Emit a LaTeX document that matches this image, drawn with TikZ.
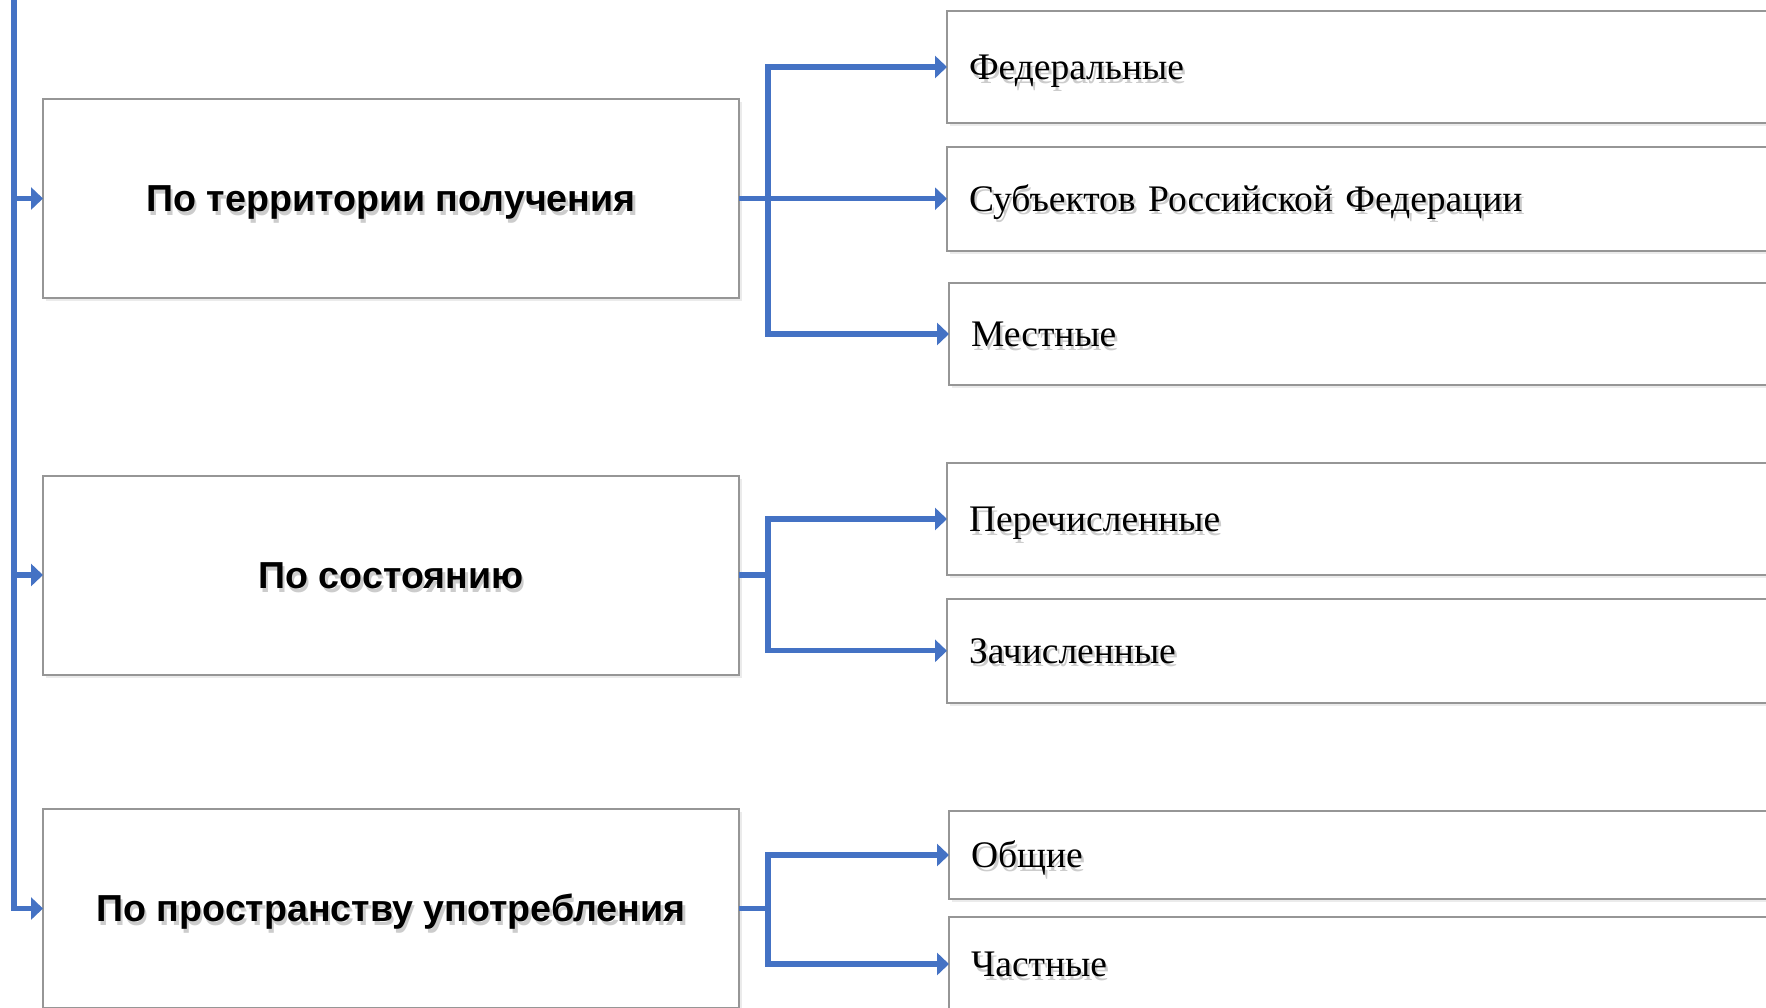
\documentclass[tikz,border=0pt]{standalone}
\usepackage{fontspec}
\setmainfont{Liberation Serif}
\newfontfamily\headfont{Liberation Sans}
\usetikzlibrary{arrows.meta,shadows}
\definecolor{linkblue}{RGB}{68,114,196}
\definecolor{boxgray}{RGB}{150,150,150}
\newcommand{\shtext}[1]{\leavevmode\rlap{\kern1.2pt\raisebox{-1.8pt}{\textcolor{black!20}{#1}}}#1}

\begin{document}
\begin{tikzpicture}[x=0.5pt,y=0.5pt,yscale=-1,xscale=1,
	boxshadow/.style={drop shadow={shadow xshift=1.5pt,shadow yshift=-1.5pt,fill=black!8,opacity=1}},
	headbox/.style={draw=boxgray,line width=1pt,fill=white,boxshadow,minimum width=348pt,minimum height=99.5pt,inner sep=0pt,outer sep=0pt,text height=15pt,text depth=1.6pt,font=\headfont\bfseries\fontsize{18.8}{22}\selectfont},
	itembox/.style={draw=boxgray,line width=1pt,fill=white,boxshadow,anchor=west,text width=400pt,align=left,inner xsep=11pt,inner ysep=0pt,outer sep=0pt,text height=14pt,text depth=1.6pt,font=\fontsize{18.75}{22}\selectfont},
	link/.style={draw=linkblue,line width=2.6pt},
	linkarrow/.style={link,-{Triangle[length=6pt,width=11pt]}}]
	\useasboundingbox (0,0) rectangle (1766,1007);
	
	%Shape: Rectangle [left column]
	\node [headbox] (L1) at (391,198.5) {\shtext{По территории получения}};
	\node [headbox] (L2) at (391,575) {\shtext{По состоянию}};
	\node [headbox] (L3) at (391,908.5) {\shtext{По пространству употребления}};
	
	%Shape: Rectangle [right column]
	\node [itembox,minimum height=56pt] (R1) at (947,67) {\shtext{Федеральные}};
	\node [itembox,minimum height=52pt] (R2) at (947,198.7) {\shtext{Субъектов Российской Федерации}};
	\node [itembox,minimum height=51pt] (R3) at (949,334) {\shtext{Местные}};
	\node [itembox,minimum height=56pt] (R4) at (947,519) {\shtext{Перечисленные}};
	\node [itembox,minimum height=52pt] (R5) at (947,650.8) {\shtext{Зачисленные}};
	\node [itembox,minimum height=44pt] (R6) at (949,855) {\shtext{Общие}};
	\node [itembox,minimum height=47pt] (R7) at (949,964) {\shtext{Частные}};
	
	%Straight Lines [trunk]
	\coordinate (trunk) at (14,-4);
	\draw [linkarrow] (trunk) |- (L3.west);
	\draw [linkarrow] (trunk |- L1.west) -- (L1.west);
	\draw [linkarrow] (trunk |- L2.west) -- (L2.west);
	
	%Straight Lines [forks]
	\coordinate (fork) at (768,0);
	\foreach \r in {R1,R2,R3}
		\draw [linkarrow] (L1.east) -- (L1.east -| fork) |- (\r.west);
	\foreach \r in {R4,R5}
		\draw [linkarrow] (L2.east) -- (L2.east -| fork) |- (\r.west);
	\foreach \r in {R6,R7}
		\draw [linkarrow] (L3.east) -- (L3.east -| fork) |- (\r.west);
	
\end{tikzpicture}
\end{document}
